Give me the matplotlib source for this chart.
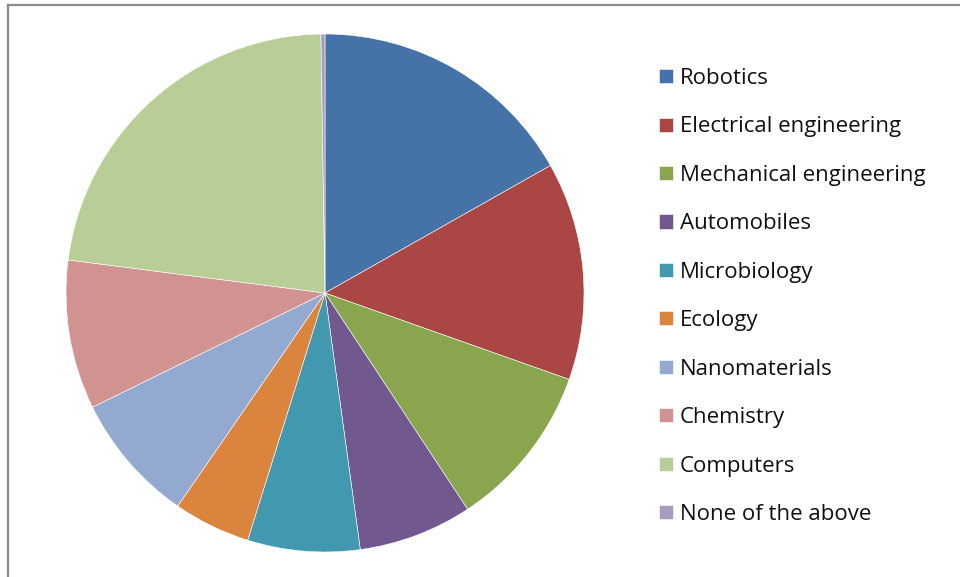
import matplotlib
matplotlib.use("Agg")
import matplotlib.pyplot as plt
from matplotlib.lines import Line2D

categories = ["Robotics", "Electrical engineering", "Mechanical engineering",
              "Automobiles", "Microbiology", "Ecology", "Nanomaterials",
              "Chemistry", "Computers", "None of the above"]
values = [16.8, 13.6, 10.3, 7.1, 7.0, 4.8, 8.1, 9.3, 22.7, 0.25]
colors = ["#4572A7", "#AA4643", "#89A54E", "#71588F", "#4198AF",
          "#DB843D", "#93A9CF", "#D19392", "#B9CD96", "#A99BBD"]

W, H = 960, 577
fig = plt.figure(figsize=(9.6, 5.77), dpi=100)
fig.patch.set_facecolor("white")

# frame lines (left and top)
fig.add_artist(Line2D([7.5 / W, 7.5 / W], [0, 1 - 5 / H], color="#8c8c8c", lw=1.6))
fig.add_artist(Line2D([7.5 / W, 1], [1 - 5 / H, 1 - 5 / H], color="#8c8c8c", lw=1.6))

cx, cy, r = 325, 293, 259
ax = fig.add_axes([(cx - r) / W, (H - cy - r) / H, 2 * r / W, 2 * r / H])
wedges, _ = ax.pie(values, colors=colors, startangle=90, counterclock=False,
                   radius=1, wedgeprops=dict(edgecolor="white", linewidth=0.4))
ax.set_xlim(-1, 1)
ax.set_ylim(-1, 1)
ax.set_aspect("auto")
ax.axis("off")

leg = fig.legend(wedges, categories, loc="upper left",
                 bbox_to_anchor=(659 / W, 1 - 68 / H),
                 frameon=False, prop={"family": "Open Sans", "size": 16},
                 handlelength=0.63, handleheight=0.6, handletextpad=0.3,
                 labelspacing=1.235, borderpad=0, borderaxespad=0)
for t in leg.get_texts():
    t.set_color("#111111")

fig.savefig("out.png", dpi=100, facecolor="white")
